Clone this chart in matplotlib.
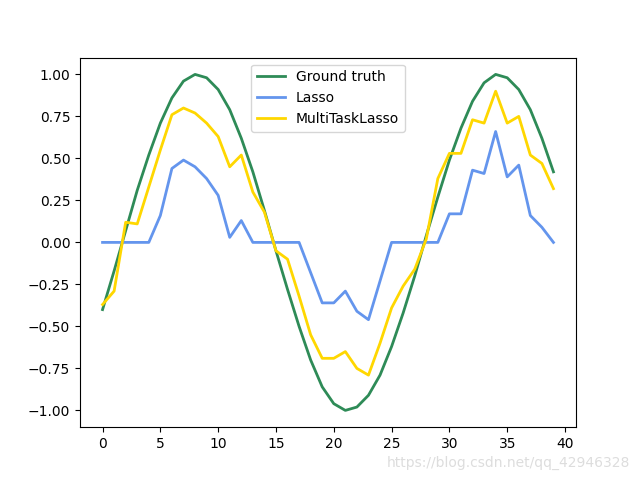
import matplotlib
matplotlib.use("Agg")
import matplotlib.pyplot as plt

feature_index = list(range(40))
ground_truth = [-0.40, -0.17, 0.07, 0.31, 0.52, 0.71, 0.86, 0.96, 1.00, 0.98,
                0.91, 0.79, 0.62, 0.42, 0.19, -0.05, -0.28, -0.50, -0.70, -0.86,
                -0.96, -1.00, -0.98, -0.91, -0.79, -0.62, -0.42, -0.20, 0.04, 0.27,
                0.49, 0.68, 0.84, 0.95, 1.00, 0.98, 0.91, 0.79, 0.62, 0.42]
lasso = [0.0, 0.0, 0.0, 0.0, 0.0, 0.16, 0.44, 0.49, 0.45, 0.38,
         0.28, 0.03, 0.13, 0.0, 0.0, 0.0, 0.0, 0.0, -0.18, -0.36,
         -0.36, -0.29, -0.41, -0.46, -0.23, 0.0, 0.0, 0.0, 0.0, 0.0,
         0.17, 0.17, 0.43, 0.41, 0.66, 0.39, 0.46, 0.16, 0.09, 0.0]
multitask = [-0.37, -0.29, 0.12, 0.11, 0.33, 0.55, 0.76, 0.80, 0.77, 0.71,
             0.63, 0.45, 0.52, 0.30, 0.18, -0.05, -0.10, -0.32, -0.55, -0.69,
             -0.69, -0.65, -0.75, -0.79, -0.60, -0.39, -0.26, -0.16, 0.02, 0.38,
             0.53, 0.53, 0.73, 0.71, 0.90, 0.71, 0.75, 0.52, 0.47, 0.32]

fig = plt.figure(figsize=(6.4, 4.8), dpi=100)
ax = fig.add_subplot(111)
lw = 2
ax.plot(feature_index, ground_truth, color='seagreen', linewidth=lw, label='Ground truth')
ax.plot(feature_index, lasso, color='cornflowerblue', linewidth=lw, label='Lasso')
ax.plot(feature_index, multitask, color='gold', linewidth=lw, label='MultiTaskLasso')
ax.legend(loc='upper center')
ax.set_ylim([-1.1, 1.1])
fig.text(0.985, 0.036, 'https://blog.csdn.net/qq_42946328', ha='right', va='center',
         color='#dddddd', fontsize=10)
fig.savefig('out.png', dpi=100)
